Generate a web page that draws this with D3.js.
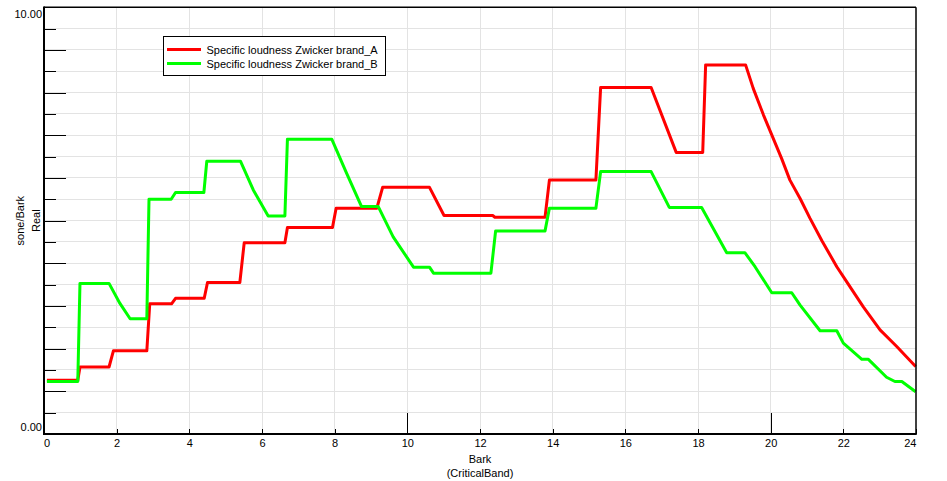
<!DOCTYPE html>
<html>
<head>
<meta charset="utf-8">
<script src="https://cdn.jsdelivr.net/npm/d3@7"></script>
<style>
  html, body { margin: 0; padding: 0; background: #ffffff; }
  svg { display: block; font-family: "Liberation Sans", Arial, sans-serif; }
</style>
</head>
<body>
<svg id="chart" width="947" height="481"></svg>
<script>
// ---- data ----
const barkA = [0.08, 0.93, 0.99, 1.79, 1.91, 2.83, 2.91, 3.51, 3.62, 4.41, 4.50, 5.39, 5.51, 6.63, 6.70, 7.94, 8.04, 9.16, 9.32, 10.61, 11.01, 12.35, 12.41, 13.79, 13.91, 15.19, 15.32, 16.71, 17.40, 18.13, 18.21, 19.31, 19.52, 19.80, 20.03, 20.30, 20.53, 20.81, 21.08, 21.41, 21.82, 22.09, 22.55, 23.01, 23.47, 23.99];
const sonesA = [1.26, 1.26, 1.57, 1.57, 1.95, 1.95, 3.05, 3.05, 3.18, 3.18, 3.55, 3.55, 4.48, 4.48, 4.84, 4.84, 5.29, 5.29, 5.78, 5.78, 5.12, 5.12, 5.08, 5.08, 5.95, 5.95, 8.12, 8.12, 6.60, 6.60, 8.65, 8.65, 8.10, 7.48, 7.01, 6.46, 5.95, 5.52, 5.06, 4.53, 3.92, 3.57, 2.98, 2.44, 2.05, 1.58];

const barkB = [0.08, 0.93, 0.99, 1.79, 2.09, 2.37, 2.83, 2.89, 3.50, 3.62, 4.40, 4.48, 5.41, 5.76, 6.17, 6.63, 6.70, 7.92, 8.33, 8.74, 9.20, 9.61, 10.17, 10.61, 10.72, 12.30, 12.43, 13.79, 13.91, 15.19, 15.32, 16.71, 17.21, 18.10, 18.79, 19.29, 19.57, 20.03, 20.58, 20.81, 21.36, 21.82, 22.00, 22.51, 22.69, 23.19, 23.42, 23.61, 23.99];
const sonesB = [1.23, 1.23, 3.53, 3.53, 3.06, 2.70, 2.70, 5.50, 5.50, 5.66, 5.66, 6.39, 6.39, 5.72, 5.11, 5.11, 6.91, 6.91, 6.11, 5.33, 5.33, 4.62, 3.91, 3.91, 3.77, 3.77, 4.76, 4.76, 5.29, 5.29, 6.15, 6.15, 5.31, 5.31, 4.25, 4.25, 3.92, 3.31, 3.31, 3.02, 2.42, 2.42, 2.13, 1.75, 1.75, 1.33, 1.23, 1.23, 0.99];

const seriesNames = ["Specific loudness Zwicker brand_A", "Specific loudness Zwicker brand_B"];
const seriesColors = ["#ff0000", "#00ff00"];

const xTicks = [0, 2, 4, 6, 8, 10, 12, 14, 16, 18, 20, 22, 24];
const xMajorTicks = [0, 10, 20];
const yGridTicks = d3.range(0, 10.01, 0.5);
const yMajorTicks = [1, 2, 3, 4, 5, 6, 7, 8, 9];
const yMinorTicks = [0.5, 1.5, 2.5, 3.5, 4.5, 5.5, 6.5, 7.5, 8.5, 9.5];
const yLabels = ["0.00", "10.00"];
const yLabelValues = [0, 10];
const xTitle = ["Bark", "(CriticalBand)"];
const yTitle = ["sone/Bark", "Real"];

// ---- layout ----
const L = 44, R = 916, T = 7.3, B = 434;
const svg = d3.select("#chart");
const x = d3.scaleLinear().domain([0, 24]).range([L, R]);
const y = d3.scaleLinear().domain([0, 10]).range([B, T]);

// grid
const grid = svg.append("g").attr("stroke", "#e3e3e3").attr("stroke-width", 1).attr("shape-rendering", "crispEdges");
grid.selectAll("line.h").data(yGridTicks.filter(v => v > 0 && v < 10)).join("line")
  .attr("x1", L).attr("x2", R).attr("y1", d => y(d)).attr("y2", d => y(d));
grid.selectAll("line.v").data(xTicks.filter(v => v > 0 && v < 24)).join("line")
  .attr("class", "v")
  .attr("y1", T).attr("y2", B).attr("x1", d => x(d)).attr("x2", d => x(d));

// y inside ticks (major and minor)
const yMaj = svg.append("g").attr("transform", `translate(${L},0)`)
  .call(d3.axisRight(y).tickValues(yMajorTicks).tickSize(22).tickFormat(""));
const yMin = svg.append("g").attr("transform", `translate(${L},0)`)
  .call(d3.axisRight(y).tickValues(yMinorTicks).tickSize(12).tickFormat(""));
[yMaj, yMin].forEach(g => {
  g.select(".domain").remove();
  g.selectAll(".tick line").attr("stroke", "#000").attr("stroke-width", 1.2).attr("shape-rendering", "crispEdges");
});

// x ticks pointing up into the plot
const xMin = svg.append("g").attr("transform", `translate(0,${B})`)
  .call(d3.axisTop(x).tickValues(xTicks).tickSize(5).tickFormat(""));
const xMaj = svg.append("g").attr("transform", `translate(0,${B})`)
  .call(d3.axisTop(x).tickValues(xMajorTicks).tickSize(21).tickFormat(""));
[xMin, xMaj].forEach(g => {
  g.select(".domain").remove();
  g.selectAll(".tick line").attr("stroke", "#000").attr("stroke-width", 1.2).attr("shape-rendering", "crispEdges");
});

// x labels
const xLab = svg.append("g").attr("transform", `translate(0,${B})`)
  .call(d3.axisBottom(x).tickValues(xTicks).tickSize(0).tickPadding(5).tickFormat(d3.format("d")));
xLab.select(".domain").remove();
xLab.selectAll(".tick text").attr("font-size", 11).attr("font-family", "Liberation Sans, Arial, sans-serif").attr("fill", "#000")
  .attr("text-anchor", (d, i) => i === 0 ? "start" : (i === xTicks.length - 1 ? "end" : "middle"))
  .attr("x", (d, i) => i === 0 ? -0.5 : 0);

// y labels
svg.append("g").selectAll("text").data(yLabelValues).join("text")
  .attr("x", 42)
  .attr("y", d => d === 0 ? y(d) - 3 : y(d) + 11)
  .attr("text-anchor", "end").attr("font-size", 11).attr("fill", "#000")
  .text((d, i) => yLabels[i]);

// axis titles
svg.append("text").attr("x", x(12)).attr("y", 463).attr("text-anchor", "middle").attr("font-size", 11).attr("fill", "#000").text(xTitle[0]);
svg.append("text").attr("x", x(12)).attr("y", 477).attr("text-anchor", "middle").attr("font-size", 11).attr("fill", "#000").text(xTitle[1]);
svg.append("text").attr("transform", `translate(24,${(T + B) / 2}) rotate(-90)`).attr("text-anchor", "middle").attr("font-size", 11).attr("fill", "#000").text(yTitle[0]);
svg.append("text").attr("transform", `translate(39.5,${(T + B) / 2}) rotate(-90)`).attr("text-anchor", "middle").attr("font-size", 11).attr("fill", "#000").text(yTitle[1]);

// series lines
const line = d3.line().x(d => x(d[0])).y(d => y(d[1]));
const seriesData = [d3.zip(barkA, sonesA), d3.zip(barkB, sonesB)];
svg.append("g").selectAll("path").data(seriesData).join("path")
  .attr("d", line)
  .attr("fill", "none")
  .attr("stroke", (d, i) => seriesColors[i])
  .attr("stroke-width", 3)
  .attr("stroke-linejoin", "round");

// frame
svg.append("line").attr("x1", L).attr("x2", R).attr("y1", T).attr("y2", T).attr("stroke", "#000").attr("stroke-width", 1.5);
svg.append("line").attr("x1", R).attr("x2", R).attr("y1", T).attr("y2", B).attr("stroke", "#000").attr("stroke-width", 1.5);
svg.append("line").attr("x1", L).attr("x2", L).attr("y1", T - 0.75).attr("y2", B + 1).attr("stroke", "#000").attr("stroke-width", 2);
svg.append("line").attr("x1", L - 1).attr("x2", R + 0.75).attr("y1", B).attr("y2", B).attr("stroke", "#000").attr("stroke-width", 2);

// legend
const lg = svg.append("g");
lg.append("rect").attr("x", 163.5).attr("y", 36.5).attr("width", 222).attr("height", 39)
  .attr("fill", "#fff").attr("stroke", "#000").attr("stroke-width", 1);
const items = lg.selectAll("g.item").data(seriesNames).join("g").attr("class", "item")
  .attr("transform", (d, i) => `translate(0,${49.5 + i * 14})`);
items.append("line").attr("x1", 167).attr("x2", 201).attr("y1", 0).attr("y2", 0)
  .attr("stroke", (d, i) => seriesColors[i]).attr("stroke-width", 3);
items.append("text").attr("x", 206.5).attr("y", 4).attr("font-size", 11).attr("fill", "#000").text(d => d);
</script>
</body>
</html>
